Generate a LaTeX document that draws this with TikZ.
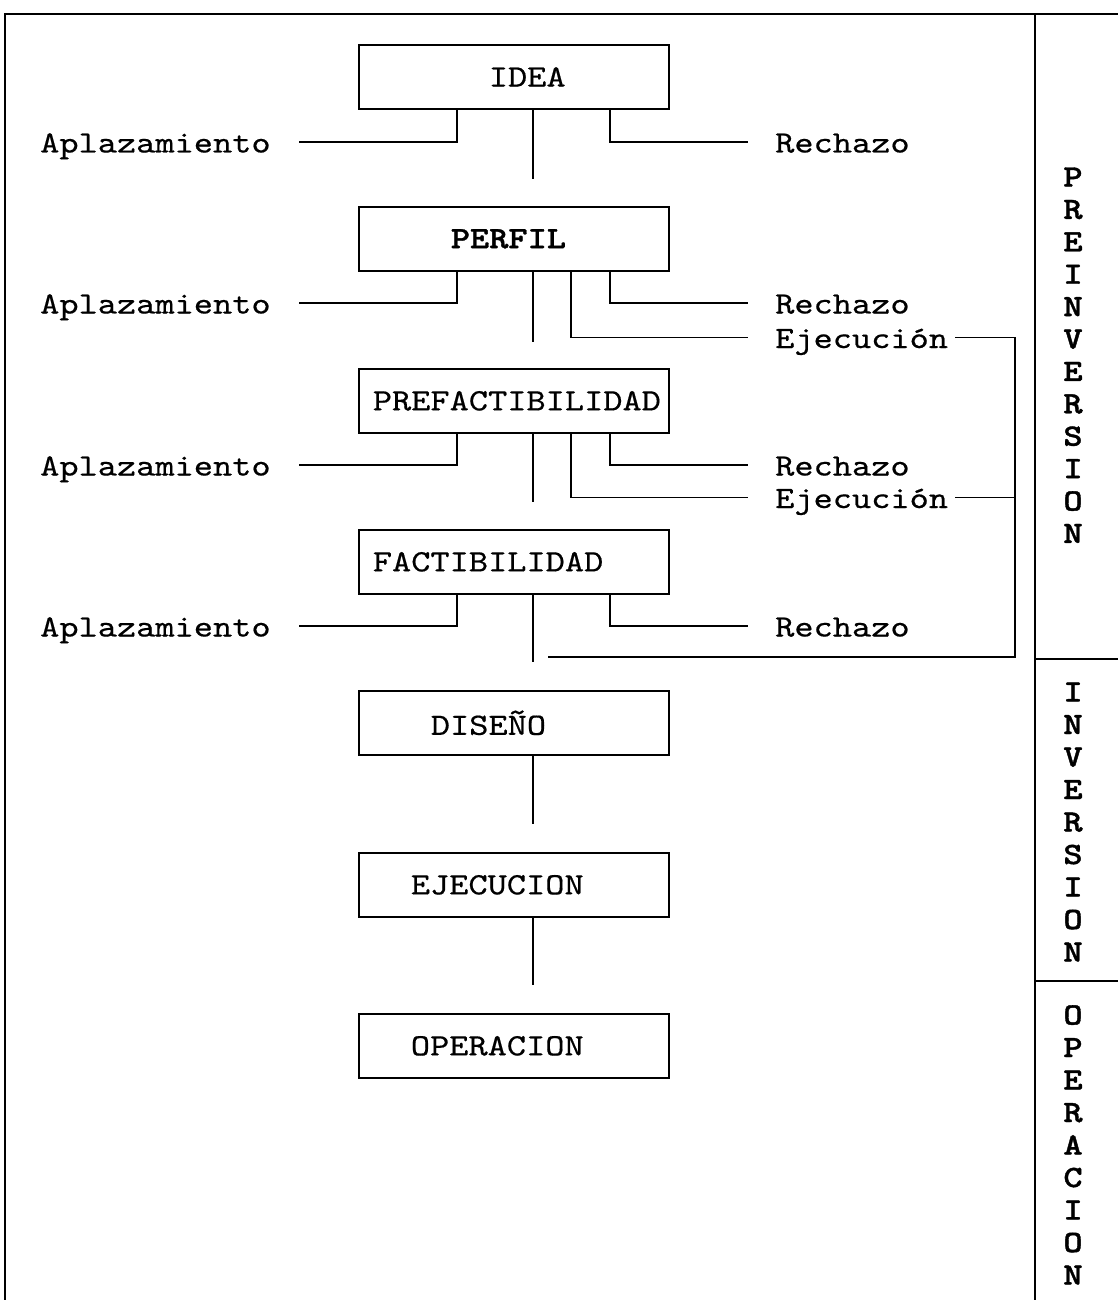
\documentclass[tikz,border=0pt]{standalone}
\usepackage{fontspec}
\newfontfamily\cour{lmmono10-regular.otf}[FakeStretch=1.18,FakeBold=0.5]
\newfontfamily\courb{lmmonolt10-bold.otf}[FakeStretch=1.18,FakeBold=1.2]
\begin{document}
\begin{tikzpicture}[x=1pt,y=-1pt,
  every node/.style={font=\cour\fontsize{31}{36}\selectfont},
  ln/.style={line width=1.7pt},
  frame/.style={line width=2.2pt},
  box/.style={draw,line width=1.7pt,minimum width=310pt,minimum height=64pt,
    text width=282pt,inner xsep=14pt,align=left,anchor=north west},
  lab/.style={inner sep=0pt,anchor=base west},
  vl/.style={inner sep=0pt,anchor=base,font=\courb\fontsize{31}{36}\selectfont}]
\useasboundingbox (0,0) rectangle (1118,1300);
% frame
\draw[frame] (5,1300) -- (5,14) -- (1118,14);
\draw[frame] (1035,14) -- (1035,1300);
\draw[frame] (1035,659) -- (1118,659);
\draw[frame] (1035,981) -- (1118,981);
% boxes
\node[box] (idea) at (358,44) {\hspace*{116pt}IDEA};
\node[box] (perfil) at (358,206) {\hspace*{78pt}{\courb PERFIL}};
\node[box] (pref) at (358,368) {PREFACTIBILIDAD};
\node[box] (fact) at (358,529) {FACTIBILIDAD};
\node[box] (dis) at (358,690) {\hspace*{58pt}DISEÑO};
\node[box] (ejec) at (358,852) {\hspace*{38pt}EJECUCION};
\node[box] (oper) at (358,1013) {\hspace*{38pt}OPERACION};
% labels
\node[lab] (apl1) at (40,152.5) {Aplazamiento};
\node[lab] (rec1) at (775,152.5) {Rechazo};
\node[lab] (apl2) at (40,313.5) {Aplazamiento};
\node[lab] (rec2) at (775,313.5) {Rechazo};
\node[lab] (ej2) at (775,348) {Ejecución};
\node[lab] (apl3) at (40,475.5) {Aplazamiento};
\node[lab] (rec3) at (775,475.5) {Rechazo};
\node[lab] (ej3) at (775,508) {Ejecución};
\node[lab] (apl4) at (40,636.5) {Aplazamiento};
\node[lab] (rec4) at (775,636.5) {Rechazo};
\coordinate (bus) at (1015,657);
\coordinate (busend) at (548,657);
% connectors
\foreach \b/\a/\r in {idea/apl1/rec1, perfil/apl2/rec2, pref/apl3/rec3, fact/apl4/rec4}{
  \draw[ln] ([xshift=99pt]\b.south west) |- ([xshift=28pt,yshift=10.5pt]\a.base east);
  \draw[ln] ([xshift=252pt]\b.south west) |- ([xshift=-27pt,yshift=10.5pt]\r.base west);
}
\draw[ln] ([xshift=175pt]idea.south west) -- ++(0,69);
\draw[ln] ([xshift=175pt]perfil.south west) -- ++(0,70);
\draw[ln] ([xshift=175pt]pref.south west) -- ++(0,68);
\draw[ln] ([xshift=175pt]fact.south west) -- ++(0,67);
\draw[ln] ([xshift=175pt]dis.south west) -- ++(0,68);
\draw[ln] ([xshift=175pt]ejec.south west) -- ++(0,67);
\draw[ln] ([xshift=213pt]perfil.south west) |- ([xshift=-27pt,yshift=10.5pt]ej2.base west);
\draw[ln] ([xshift=213pt]pref.south west) |- ([xshift=-27pt,yshift=10.5pt]ej3.base west);
\draw[ln] ([xshift=7pt,yshift=10.5pt]ej2.base east) -| (bus) -- (busend);
\draw[ln] ([xshift=7pt,yshift=10.5pt]ej3.base east) -- ([yshift=10.5pt]ej3.base -| bus);
% vertical phase labels
\foreach \c [count=\i] in {P,R,E,I,N,V,E,R,S,I,O,N}
  \node[vl] (pre\i) at (1073,{186.5+32.4*(\i-1)}) {\c};
\foreach \c [count=\i] in {I,N,V,E,R,S,I,O,N}
  \node[vl] (inv\i) at (1073,{701.5+32.5*(\i-1)}) {\c};
\foreach \c [count=\i] in {O,P,E,R,A,C,I,O,N}
  \node[vl] (ope\i) at (1073,{1024.5+32.5*(\i-1)}) {\c};
\end{tikzpicture}
\end{document}
